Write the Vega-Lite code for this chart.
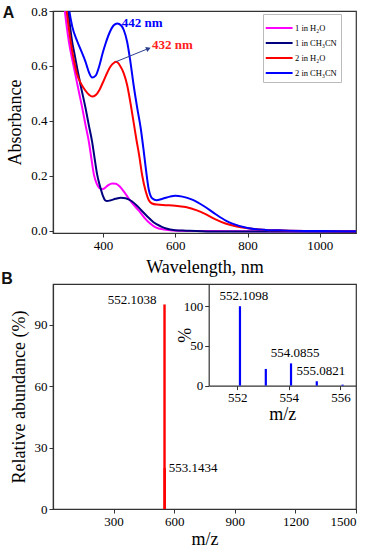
{
  "$schema": "https://vega.github.io/schema/vega-lite/v6.json",
  "background": "white",
  "padding": {"left": 0, "top": 4, "right": 0, "bottom": 0},
  "bounds": "flush",
  "spacing": 51,
  "config": {
    "font": "Liberation Serif",
    "view": {"stroke": "#333", "strokeWidth": 1.2},
    "axis": {
      "grid": false,
      "labelFont": "Liberation Serif",
      "labelFontSize": 13,
      "labelColor": "#000",
      "titleFont": "Liberation Serif",
      "titleFontSize": 18,
      "titleFontWeight": "normal",
      "titleColor": "#000",
      "domainColor": "#333",
      "domainWidth": 1.2,
      "tickColor": "#333",
      "tickSize": 4,
      "labelPadding": 2,
      "titlePadding": 6
    }
  },
  "datasets": {
    "spectra": [
      {"s": "1 in H₂O", "wl": 270, "abs": 1.2},
      {"s": "1 in H₂O", "wl": 290, "abs": 0.86},
      {"s": "1 in H₂O", "wl": 306, "abs": 0.688},
      {"s": "1 in H₂O", "wl": 315, "abs": 0.625},
      {"s": "1 in H₂O", "wl": 324, "abs": 0.568},
      {"s": "1 in H₂O", "wl": 333, "abs": 0.51},
      {"s": "1 in H₂O", "wl": 343, "abs": 0.447},
      {"s": "1 in H₂O", "wl": 352, "abs": 0.385},
      {"s": "1 in H₂O", "wl": 361, "abs": 0.326},
      {"s": "1 in H₂O", "wl": 368, "abs": 0.265},
      {"s": "1 in H₂O", "wl": 375, "abs": 0.206},
      {"s": "1 in H₂O", "wl": 382, "abs": 0.175},
      {"s": "1 in H₂O", "wl": 389, "abs": 0.158},
      {"s": "1 in H₂O", "wl": 398, "abs": 0.152},
      {"s": "1 in H₂O", "wl": 405, "abs": 0.156},
      {"s": "1 in H₂O", "wl": 415, "abs": 0.167},
      {"s": "1 in H₂O", "wl": 426, "abs": 0.173},
      {"s": "1 in H₂O", "wl": 436, "abs": 0.172},
      {"s": "1 in H₂O", "wl": 448, "abs": 0.16},
      {"s": "1 in H₂O", "wl": 463, "abs": 0.134},
      {"s": "1 in H₂O", "wl": 480, "abs": 0.103},
      {"s": "1 in H₂O", "wl": 500, "abs": 0.073},
      {"s": "1 in H₂O", "wl": 515, "abs": 0.048},
      {"s": "1 in H₂O", "wl": 530, "abs": 0.028},
      {"s": "1 in H₂O", "wl": 546, "abs": 0.013},
      {"s": "1 in H₂O", "wl": 570, "abs": 0.005},
      {"s": "1 in H₂O", "wl": 592, "abs": 0.002},
      {"s": "1 in H₂O", "wl": 650, "abs": 0.0},
      {"s": "1 in H₂O", "wl": 800, "abs": -0.001},
      {"s": "1 in H₂O", "wl": 1100, "abs": -0.002},
      {"s": "1 in CH₃CN", "wl": 270, "abs": 1.3},
      {"s": "1 in CH₃CN", "wl": 300, "abs": 0.85},
      {"s": "1 in CH₃CN", "wl": 315, "abs": 0.688},
      {"s": "1 in CH₃CN", "wl": 322, "abs": 0.64},
      {"s": "1 in CH₃CN", "wl": 329, "abs": 0.591},
      {"s": "1 in CH₃CN", "wl": 340, "abs": 0.52},
      {"s": "1 in CH₃CN", "wl": 352, "abs": 0.447},
      {"s": "1 in CH₃CN", "wl": 361, "abs": 0.385},
      {"s": "1 in CH₃CN", "wl": 370, "abs": 0.326},
      {"s": "1 in CH₃CN", "wl": 377, "abs": 0.265},
      {"s": "1 in CH₃CN", "wl": 384, "abs": 0.206},
      {"s": "1 in CH₃CN", "wl": 393, "abs": 0.158},
      {"s": "1 in CH₃CN", "wl": 400, "abs": 0.128},
      {"s": "1 in CH₃CN", "wl": 406, "abs": 0.112},
      {"s": "1 in CH₃CN", "wl": 412, "abs": 0.109},
      {"s": "1 in CH₃CN", "wl": 420, "abs": 0.111},
      {"s": "1 in CH₃CN", "wl": 435, "abs": 0.117},
      {"s": "1 in CH₃CN", "wl": 450, "abs": 0.121},
      {"s": "1 in CH₃CN", "wl": 463, "abs": 0.119},
      {"s": "1 in CH₃CN", "wl": 480, "abs": 0.108},
      {"s": "1 in CH₃CN", "wl": 495, "abs": 0.091},
      {"s": "1 in CH₃CN", "wl": 510, "abs": 0.07},
      {"s": "1 in CH₃CN", "wl": 525, "abs": 0.05},
      {"s": "1 in CH₃CN", "wl": 540, "abs": 0.032},
      {"s": "1 in CH₃CN", "wl": 560, "abs": 0.017},
      {"s": "1 in CH₃CN", "wl": 575, "abs": 0.009},
      {"s": "1 in CH₃CN", "wl": 600, "abs": 0.003},
      {"s": "1 in CH₃CN", "wl": 630, "abs": 0.001},
      {"s": "1 in CH₃CN", "wl": 700, "abs": -0.002},
      {"s": "1 in CH₃CN", "wl": 800, "abs": -0.002},
      {"s": "1 in CH₃CN", "wl": 1100, "abs": -0.003},
      {"s": "2 in H₂O", "wl": 270, "abs": 1.3},
      {"s": "2 in H₂O", "wl": 295, "abs": 0.86},
      {"s": "2 in H₂O", "wl": 311, "abs": 0.688},
      {"s": "2 in H₂O", "wl": 320, "abs": 0.62},
      {"s": "2 in H₂O", "wl": 329, "abs": 0.568},
      {"s": "2 in H₂O", "wl": 340, "abs": 0.535},
      {"s": "2 in H₂O", "wl": 352, "abs": 0.51},
      {"s": "2 in H₂O", "wl": 362, "abs": 0.495},
      {"s": "2 in H₂O", "wl": 370, "abs": 0.489},
      {"s": "2 in H₂O", "wl": 380, "abs": 0.494},
      {"s": "2 in H₂O", "wl": 390, "abs": 0.512},
      {"s": "2 in H₂O", "wl": 400, "abs": 0.54},
      {"s": "2 in H₂O", "wl": 410, "abs": 0.57},
      {"s": "2 in H₂O", "wl": 421, "abs": 0.598},
      {"s": "2 in H₂O", "wl": 430, "abs": 0.611},
      {"s": "2 in H₂O", "wl": 437, "abs": 0.615},
      {"s": "2 in H₂O", "wl": 447, "abs": 0.602},
      {"s": "2 in H₂O", "wl": 458, "abs": 0.572},
      {"s": "2 in H₂O", "wl": 467, "abs": 0.531},
      {"s": "2 in H₂O", "wl": 477, "abs": 0.46},
      {"s": "2 in H₂O", "wl": 486, "abs": 0.387},
      {"s": "2 in H₂O", "wl": 493, "abs": 0.33},
      {"s": "2 in H₂O", "wl": 500, "abs": 0.278},
      {"s": "2 in H₂O", "wl": 509, "abs": 0.2},
      {"s": "2 in H₂O", "wl": 518, "abs": 0.146},
      {"s": "2 in H₂O", "wl": 527, "abs": 0.112},
      {"s": "2 in H₂O", "wl": 536, "abs": 0.1},
      {"s": "2 in H₂O", "wl": 550, "abs": 0.096},
      {"s": "2 in H₂O", "wl": 573, "abs": 0.094},
      {"s": "2 in H₂O", "wl": 600, "abs": 0.092},
      {"s": "2 in H₂O", "wl": 629, "abs": 0.087},
      {"s": "2 in H₂O", "wl": 660, "abs": 0.075},
      {"s": "2 in H₂O", "wl": 684, "abs": 0.061},
      {"s": "2 in H₂O", "wl": 710, "abs": 0.043},
      {"s": "2 in H₂O", "wl": 739, "abs": 0.027},
      {"s": "2 in H₂O", "wl": 770, "abs": 0.016},
      {"s": "2 in H₂O", "wl": 800, "abs": 0.01},
      {"s": "2 in H₂O", "wl": 850, "abs": 0.004},
      {"s": "2 in H₂O", "wl": 900, "abs": 0.002},
      {"s": "2 in H₂O", "wl": 1000, "abs": 0.0},
      {"s": "2 in H₂O", "wl": 1100, "abs": -0.001},
      {"s": "2 in CH₃CN", "wl": 270, "abs": 1.3},
      {"s": "2 in CH₃CN", "wl": 295, "abs": 0.95},
      {"s": "2 in CH₃CN", "wl": 305, "abs": 0.82},
      {"s": "2 in CH₃CN", "wl": 315, "abs": 0.745},
      {"s": "2 in CH₃CN", "wl": 329, "abs": 0.69},
      {"s": "2 in CH₃CN", "wl": 340, "abs": 0.655},
      {"s": "2 in CH₃CN", "wl": 352, "abs": 0.615},
      {"s": "2 in CH₃CN", "wl": 362, "abs": 0.575},
      {"s": "2 in CH₃CN", "wl": 370, "abs": 0.558},
      {"s": "2 in CH₃CN", "wl": 380, "abs": 0.565},
      {"s": "2 in CH₃CN", "wl": 390, "abs": 0.6},
      {"s": "2 in CH₃CN", "wl": 400, "abs": 0.65},
      {"s": "2 in CH₃CN", "wl": 407, "abs": 0.68},
      {"s": "2 in CH₃CN", "wl": 418, "abs": 0.72},
      {"s": "2 in CH₃CN", "wl": 430, "abs": 0.748},
      {"s": "2 in CH₃CN", "wl": 440, "abs": 0.755},
      {"s": "2 in CH₃CN", "wl": 450, "abs": 0.748},
      {"s": "2 in CH₃CN", "wl": 458, "abs": 0.73},
      {"s": "2 in CH₃CN", "wl": 467, "abs": 0.688},
      {"s": "2 in CH₃CN", "wl": 475, "abs": 0.625},
      {"s": "2 in CH₃CN", "wl": 485, "abs": 0.53},
      {"s": "2 in CH₃CN", "wl": 495, "abs": 0.447},
      {"s": "2 in CH₃CN", "wl": 505, "abs": 0.37},
      {"s": "2 in CH₃CN", "wl": 512, "abs": 0.3},
      {"s": "2 in CH₃CN", "wl": 518, "abs": 0.235},
      {"s": "2 in CH₃CN", "wl": 527, "abs": 0.15},
      {"s": "2 in CH₃CN", "wl": 537, "abs": 0.118},
      {"s": "2 in CH₃CN", "wl": 548, "abs": 0.112},
      {"s": "2 in CH₃CN", "wl": 565, "abs": 0.117},
      {"s": "2 in CH₃CN", "wl": 585, "abs": 0.125},
      {"s": "2 in CH₃CN", "wl": 600, "abs": 0.128},
      {"s": "2 in CH₃CN", "wl": 620, "abs": 0.125},
      {"s": "2 in CH₃CN", "wl": 647, "abs": 0.114},
      {"s": "2 in CH₃CN", "wl": 680, "abs": 0.09},
      {"s": "2 in CH₃CN", "wl": 712, "abs": 0.061},
      {"s": "2 in CH₃CN", "wl": 740, "abs": 0.038},
      {"s": "2 in CH₃CN", "wl": 760, "abs": 0.026},
      {"s": "2 in CH₃CN", "wl": 800, "abs": 0.011},
      {"s": "2 in CH₃CN", "wl": 850, "abs": 0.004},
      {"s": "2 in CH₃CN", "wl": 900, "abs": 0.002},
      {"s": "2 in CH₃CN", "wl": 1000, "abs": 0.0},
      {"s": "2 in CH₃CN", "wl": 1100, "abs": -0.001}
    ],
    "ms": [
      {"mz": 552.1038, "ab": 100, "lab": "552.1038"},
      {"mz": 553.1434, "ab": 20, "lab": "553.1434"}
    ],
    "iso": [
      {"mz": 552.1098, "ab": 100, "lab": "552.1098"},
      {"mz": 553.11, "ab": 21, "lab": ""},
      {"mz": 554.0855, "ab": 28, "lab": "554.0855"},
      {"mz": 555.0821, "ab": 5.5, "lab": "555.0821"},
      {"mz": 556.08, "ab": 1.2, "lab": ""}
    ]
  },
  "vconcat": [
    {
      "width": 303,
      "height": 222,
      "layer": [
        {
          "data": {"name": "spectra"},
          "mark": {"type": "line", "clip": true, "interpolate": "monotone", "strokeWidth": 2},
          "encoding": {
            "x": {
              "field": "wl", "type": "quantitative",
              "scale": {"domain": [262, 1100], "nice": false, "zero": false},
              "axis": {"values": [400, 600, 800, 1000], "format": "d", "title": "Wavelength, nm"}
            },
            "y": {
              "field": "abs", "type": "quantitative",
              "scale": {"domain": [-0.0073, 0.8], "nice": false, "zero": false},
              "axis": {"values": [0, 0.2, 0.4, 0.6, 0.8], "format": ".1f", "title": "Absorbance"}
            },
            "color": {
              "field": "s", "type": "nominal",
              "scale": {
                "domain": ["1 in H₂O", "1 in CH₃CN", "2 in H₂O", "2 in CH₃CN"],
                "range": ["#FF00FF", "#00007F", "#FF0000", "#0000FF"]
              },
              "legend": {
                "title": null,
                "orient": "none",
                "legendX": 210,
                "legendY": 3,
                "fillColor": "white",
                "strokeColor": "#bbb",
                "padding": 4,
                "symbolType": "M-1.3,0H1.8",
                "symbolSize": 300,
                "symbolStrokeWidth": 2,
                "labelFont": "Liberation Serif",
                "labelFontSize": 8.5,
                "labelColor": "#000",
                "labelOffset": 8,
                "rowPadding": 0
              }
            }
          }
        },
        {
          "data": {"values": [{}]},
          "mark": {"type": "rule", "color": "#2B3F8F", "strokeWidth": 1},
          "encoding": {
            "x": {"datum": 437}, "y": {"datum": 0.616},
            "x2": {"datum": 523}, "y2": {"datum": 0.662}
          }
        },
        {
          "data": {"values": [{}]},
          "mark": {"type": "point", "shape": "triangle-right", "filled": true, "color": "#2B3F8F", "size": 30, "angle": 338, "opacity": 1},
          "encoding": {"x": {"datum": 526}, "y": {"datum": 0.6635}}
        },
        {
          "data": {"values": [{}]},
          "mark": {"type": "text", "text": "442 nm", "align": "left", "baseline": "middle", "font": "Liberation Serif", "fontWeight": "bold", "fontSize": 13, "color": "#0000FF"},
          "encoding": {"x": {"datum": 452}, "y": {"datum": 0.758}}
        },
        {
          "data": {"values": [{}]},
          "mark": {"type": "text", "text": "432 nm", "align": "left", "baseline": "middle", "font": "Liberation Serif", "fontWeight": "bold", "fontSize": 13, "color": "#FF2020"},
          "encoding": {"x": {"datum": 536}, "y": {"datum": 0.676}}
        },
        {
          "data": {"values": [{}]},
          "mark": {"type": "text", "text": "A", "align": "center", "baseline": "middle", "font": "Liberation Sans", "fontWeight": "bold", "fontSize": 16, "color": "#111"},
          "encoding": {"x": {"datum": 139}, "y": {"datum": 0.792}}
        }
      ]
    },
    {
      "width": 303,
      "height": 225,
      "layer": [
        {
          "layer": [
            {
              "data": {"name": "ms"},
              "mark": {"type": "rule", "color": "#FF0000", "strokeWidth": 2.4},
              "encoding": {
                "x": {
                  "field": "mz", "type": "quantitative",
                  "scale": {"domain": [0, 1500], "nice": false},
                  "axis": {"values": [300, 600, 900, 1200, 1500], "format": "d", "title": "m/z", "orient": "bottom", "titlePadding": 2}
                },
                "y": {
                  "field": "ab", "type": "quantitative",
                  "scale": {"domain": [0, 110], "nice": false},
                  "axis": {"values": [0, 30, 60, 90], "title": "Relative abundance (%)", "orient": "left"}
                },
                "y2": {"datum": 0}
              }
            },
            {
              "data": {"name": "ms"},
              "transform": [{"filter": "datum.ab == 100"}],
              "mark": {"type": "text", "align": "right", "baseline": "middle", "dx": -8, "dy": -4, "font": "Liberation Serif", "fontSize": 13, "color": "#000"},
              "encoding": {
                "x": {"field": "mz", "type": "quantitative"},
                "y": {"field": "ab", "type": "quantitative"},
                "text": {"field": "lab"}
              }
            },
            {
              "data": {"name": "ms"},
              "transform": [{"filter": "datum.ab == 20"}],
              "mark": {"type": "text", "align": "left", "baseline": "middle", "dx": 4, "dy": 0, "font": "Liberation Serif", "fontSize": 13, "color": "#000"},
              "encoding": {
                "x": {"field": "mz", "type": "quantitative"},
                "y": {"field": "ab", "type": "quantitative"},
                "text": {"field": "lab"}
              }
            },
            {
              "data": {"values": [{}]},
              "mark": {"type": "text", "text": "B", "align": "center", "baseline": "middle", "font": "Liberation Sans", "fontWeight": "bold", "fontSize": 16, "color": "#111"},
              "encoding": {"x": {"datum": -227}, "y": {"datum": 112.4}}
            }
          ]
        },
        {
          "layer": [
            {
              "data": {"name": "iso"},
              "mark": {"type": "rule", "color": "#0000FF", "strokeWidth": 2.2},
              "encoding": {
                "x": {
                  "field": "mz", "type": "quantitative",
                  "scale": {"domain": [550.9, 556.6], "range": [155.7, 303], "nice": false, "zero": false},
                  "axis": {"values": [552, 554, 556], "title": "m/z", "orient": "bottom", "offset": -123.4, "titlePadding": 1}
                },
                "y": {
                  "field": "ab", "type": "quantitative",
                  "scale": {"domain": [0, 128], "range": [101.6, 0], "nice": false},
                  "axis": {"values": [0, 50, 100], "title": "%", "orient": "left", "offset": -155.7, "titlePadding": -11}
                },
                "y2": {"datum": 0}
              }
            },
            {
              "data": {"name": "iso"},
              "mark": {"type": "text", "align": "center", "baseline": "middle", "dx": 4, "dy": -10, "font": "Liberation Serif", "fontSize": 13, "color": "#000"},
              "encoding": {
                "x": {"field": "mz", "type": "quantitative"},
                "y": {"field": "ab", "type": "quantitative"},
                "text": {"field": "lab"}
              }
            }
          ]
        }
      ],
      "resolve": {
        "scale": {"x": "independent", "y": "independent"},
        "axis": {"x": "independent", "y": "independent"}
      }
    }
  ]
}
